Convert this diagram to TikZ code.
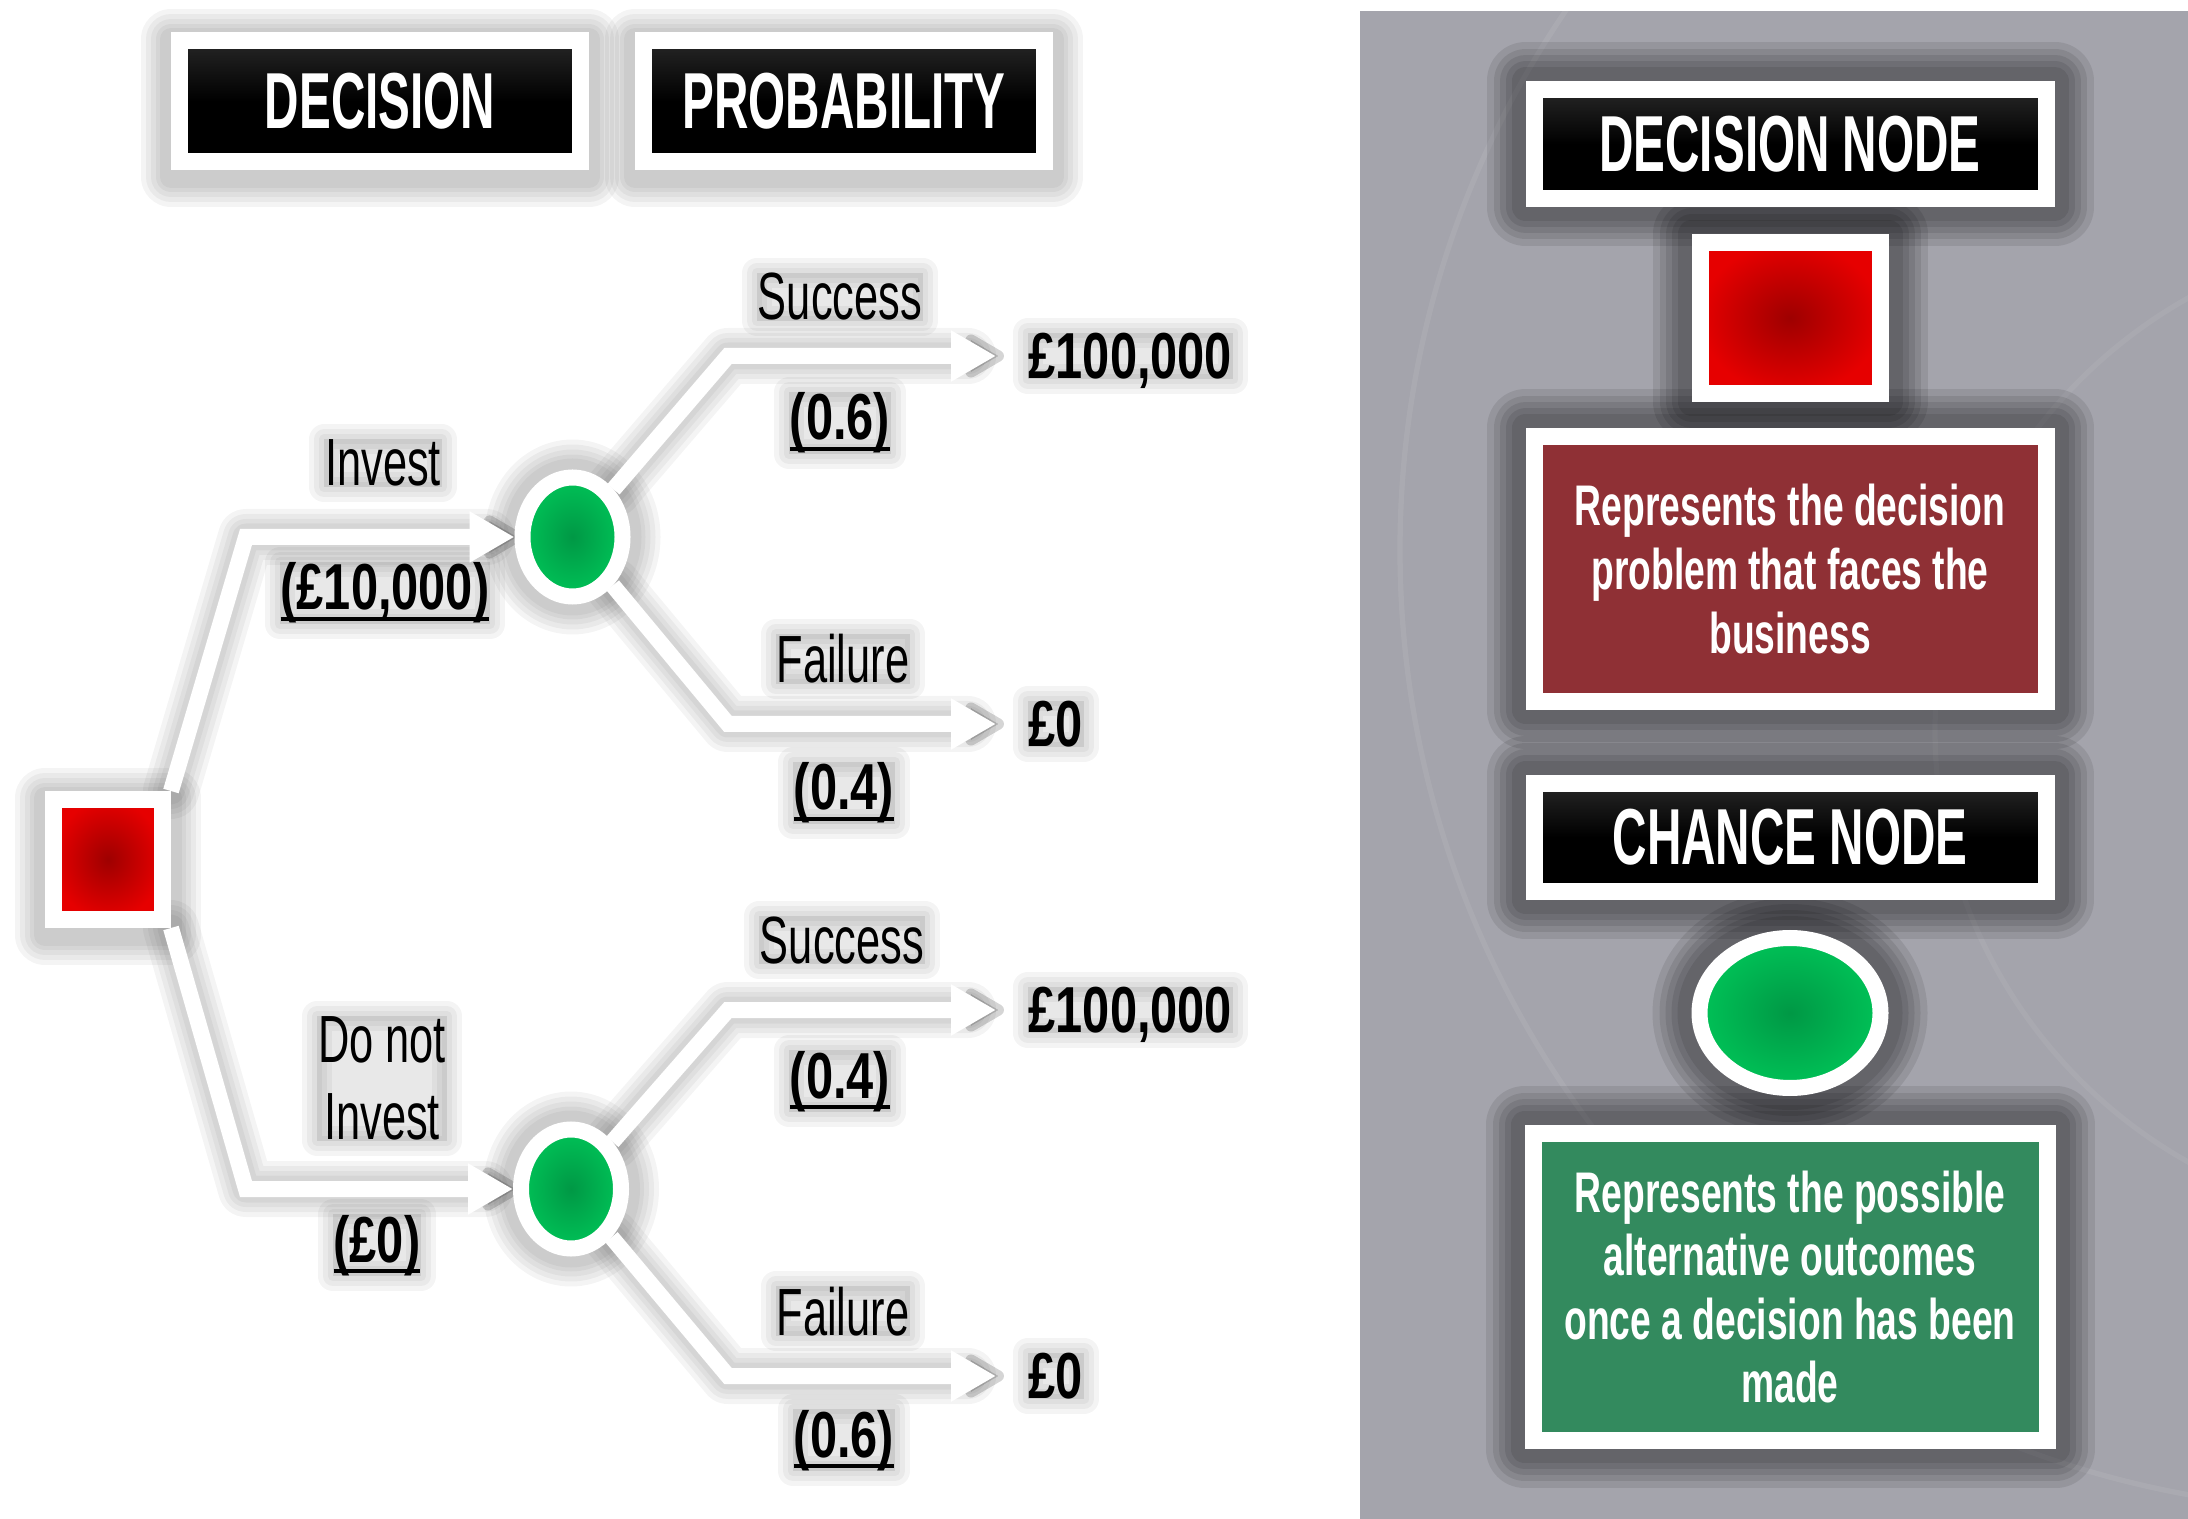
\documentclass[tikz,border=0pt]{standalone}
\usepackage{fontspec}
\usetikzlibrary{arrows.meta,positioning,shapes.geometric}
\setmainfont{Liberation Sans}
\newfontfamily\condfont{Liberation Sans}[FakeStretch=0.6]
\newfontfamily\lblfont{Liberation Sans}[FakeStretch=0.65]
\newfontfamily\numfont{Liberation Sans}[FakeStretch=0.75]
\definecolor{panelgrey}{HTML}{A4A4AC}
\definecolor{probred}{HTML}{8F3035}
\definecolor{outcomegreen}{HTML}{338A5E}
\definecolor{sqred}{HTML}{E60000}
\definecolor{sqdark}{HTML}{9E0000}
\definecolor{nodegreen}{HTML}{00C257}
\definecolor{nodedark}{HTML}{009845}
\newsavebox\amtbox
\newcommand\ulamt[1]{\sbox\amtbox{#1}\rlap{\rule[-3pt]{\wd\amtbox}{0.9pt}}\usebox\amtbox}
\pgfdeclarelayer{background}
\pgfsetlayers{background,main}

\begin{document}
\begin{tikzpicture}[
    hdbox/.style={rectangle,draw=white,line width=0.17cm,top color=black!85,bottom color=black,middle color=black,
      text=white,inner sep=0pt,font=\condfont\bfseries\fontsize{22.6}{25}\selectfont},
    decsq/.style={rectangle,draw=white,line width=0.17cm,inner color=sqdark,outer color=sqred,inner sep=0pt},
    chnode/.style={ellipse,draw=white,line width=0.16cm,inner color=nodedark,outer color=nodegreen,inner sep=0pt},
    infobox/.style={rectangle,draw=white,line width=0.17cm,text=white,inner sep=0pt,align=center,
      font=\lblfont\bfseries\fontsize{16.3}{18.1}\selectfont},
    lbl/.style={anchor=base,inner sep=0pt,font=\lblfont\fontsize{19}{21.8}\selectfont},
    amt/.style={anchor=base,inner sep=0pt,font=\numfont\bfseries\fontsize{18.5}{20}\selectfont},
    outcome/.style={anchor=west,inner xsep=0.32cm,inner ysep=0pt,text depth=0pt,
      font=\numfont\bfseries\fontsize{18.5}{20}\selectfont},
    softglow/.style={preaction={draw=black,draw opacity=.045,line width=0.60cm,line join=round},
      preaction={draw=black,draw opacity=.045,line width=0.50cm,line join=round},
      preaction={draw=black,draw opacity=.045,line width=0.40cm,line join=round},
      preaction={draw=black,draw opacity=.045,line width=0.30cm,line join=round},
      preaction={draw=black,draw opacity=.045,line width=0.22cm,line join=round}},
    darkglow/.style={preaction={draw=black,draw opacity=.09,line width=0.78cm,line join=round},
      preaction={draw=black,draw opacity=.09,line width=0.64cm,line join=round},
      preaction={draw=black,draw opacity=.09,line width=0.52cm,line join=round},
      preaction={draw=black,draw opacity=.09,line width=0.40cm,line join=round},
      preaction={draw=black,draw opacity=.09,line width=0.28cm,line join=round}},
    textglow/.style={preaction={fill=black,fill opacity=.09},
      preaction={draw=black,draw opacity=.045,line width=0.30cm,line join=round},
      preaction={draw=black,draw opacity=.045,line width=0.20cm,line join=round},
      preaction={draw=black,draw opacity=.045,line width=0.10cm,line join=round}},
    lineglow/.style={draw=black,opacity=.045,line join=round,line cap=round,shorten >=-0.08cm},
    arrow/.style={draw=white,line width=0.16cm,-{Triangle[length=0.45cm,width=0.48cm]}}]
  \useasboundingbox (0,0) rectangle (21.88,-15.19);

  \node[hdbox,minimum width=4.01cm,minimum height=1.21cm] (hdec) at (3.80,-1.01) {DECISION};
  \node[hdbox,minimum width=4.01cm,minimum height=1.21cm,right=0.46cm of hdec] (hprob) {PROBABILITY};

  \node[decsq,minimum width=1.09cm,minimum height=1.20cm] (dec) at (1.08,-8.595) {};
  \node[chnode,minimum width=1.00cm,minimum height=1.19cm] (c1) at (5.725,-5.37) {};
  \node[chnode,minimum width=1.00cm,minimum height=1.19cm] (c2) at (5.71,-11.89) {};
  \coordinate (b1) at (2.46,-5.37);
  \coordinate (b2) at (2.46,-11.89);
  \coordinate (s1) at (7.28,-3.56);
  \coordinate (f1) at (7.28,-7.24);
  \coordinate (s2) at (7.28,-10.10);
  \coordinate (f2) at (7.28,-13.76);

  \node[outcome] (o1) at (9.96,-3.56) {£100,000};
  \node[outcome] (o2) at (9.96,-7.24) {£0};
  \node[outcome] (o3) at (9.96,-10.10) {£100,000};
  \node[outcome] (o4) at (9.96,-13.76) {£0};

  \node[lbl] (linv) at (3.83,-4.86) {Invest};
  \node[amt] (cinv) at (3.85,-6.10) {\ulamt{(£10,000)}};
  \node[lbl,anchor=north,align=center] (lnot) at (3.82,-10.16) {Do not\\Invest};
  \node[amt] (cnot) at (3.77,-12.62) {\ulamt{(£0)}};
  \node[lbl] (ls1) at (8.40,-3.20) {Success};
  \node[amt] (p1) at (8.40,-4.40) {\ulamt{(0.6)}};
  \node[lbl] (lf1) at (8.43,-6.83) {Failure};
  \node[amt] (p2) at (8.44,-8.10) {\ulamt{(0.4)}};
  \node[lbl] (ls2) at (8.42,-9.63) {Success};
  \node[amt] (p3) at (8.40,-10.98) {\ulamt{(0.4)}};
  \node[lbl] (lf2) at (8.43,-13.35) {Failure};
  \node[amt] (p4) at (8.44,-14.57) {\ulamt{(0.6)}};

  \node[hdbox,minimum width=5.12cm,minimum height=1.09cm] (dnhead) at (17.90,-1.44) {DECISION NODE};
  \node[decsq,minimum width=1.80cm,minimum height=1.51cm,below=0.27cm of dnhead] (dnkey) {};
  \node[infobox,fill=probred,minimum width=5.12cm,minimum height=2.65cm,below=0.26cm of dnkey] (dninfo)
    {Represents the decision\\problem that faces the\\business};
  \node[hdbox,minimum width=5.12cm,minimum height=1.08cm,below=0.65cm of dninfo] (cnhead) {CHANCE NODE};
  \node[chnode,minimum width=1.81cm,minimum height=1.50cm,below=0.30cm of cnhead] (cnkey) {};
  \node[infobox,fill=outcomegreen,minimum width=5.14cm,minimum height=3.07cm,below=0.29cm of cnkey] (cninfo)
    {Represents the possible\\alternative outcomes\\once a decision has been\\made};

  \begin{pgfonlayer}{background}
    \fill[panelgrey] (13.60,-0.11) rectangle (21.88,-15.19);
    \begin{scope}
      \clip (13.60,-0.11) rectangle (21.88,-15.19);
      \draw[white,opacity=.07,line width=1.5pt] (23.6,-5.5) circle (9.6cm);
      \draw[white,opacity=.06,line width=1.5pt] (24.3,-7.3) circle (4.95cm);
    \end{scope}
    % glow round the boxes and texts
    \foreach \n in {hdec,hprob,dec}
      \path[softglow] ([yshift=-2pt]\n.north west) rectangle ([yshift=-2pt]\n.south east);
    \foreach \n in {c1,c2}
      \path[softglow] (\n) ellipse [x radius=0.58cm,y radius=0.675cm];
    \foreach \n in {linv,cinv,lnot,cnot,ls1,p1,lf1,p2,ls2,p3,lf2,p4}
      \path[textglow] (\n.south west) rectangle (\n.north east);
    \foreach \n in {o1,o2,o3,o4}
      \path[textglow] ([xshift=0.32cm]\n.south west) rectangle ([xshift=-0.32cm]\n.north east);
    \foreach \n in {dnhead,dnkey,dninfo,cnhead,cninfo}
      \path[darkglow] (\n.north west) rectangle (\n.south east);
    \path[darkglow] (cnkey) ellipse [x radius=0.985cm,y radius=0.83cm];
    % branches
    \foreach \ea/\eb/\ec in {dec.north east/b1/c1,dec.south east/b2/c2,c1/s1/o1,c1/f1/o2,c2/s2/o3,c2/f2/o4}{
      \foreach \gw/\tw in {0.56cm/0.36cm,0.46cm/0.28cm,0.36cm/0.20cm,0.27cm/0.12cm}
        \draw[lineglow,line width=\gw,-{Triangle[length=0.45cm,width=0.48cm,line width=\tw,round]}]
          (\ea) -- (\eb) -- (\ec);
      \draw[arrow] (\ea) -- (\eb) -- (\ec);
    }
  \end{pgfonlayer}
\end{tikzpicture}
\end{document}
